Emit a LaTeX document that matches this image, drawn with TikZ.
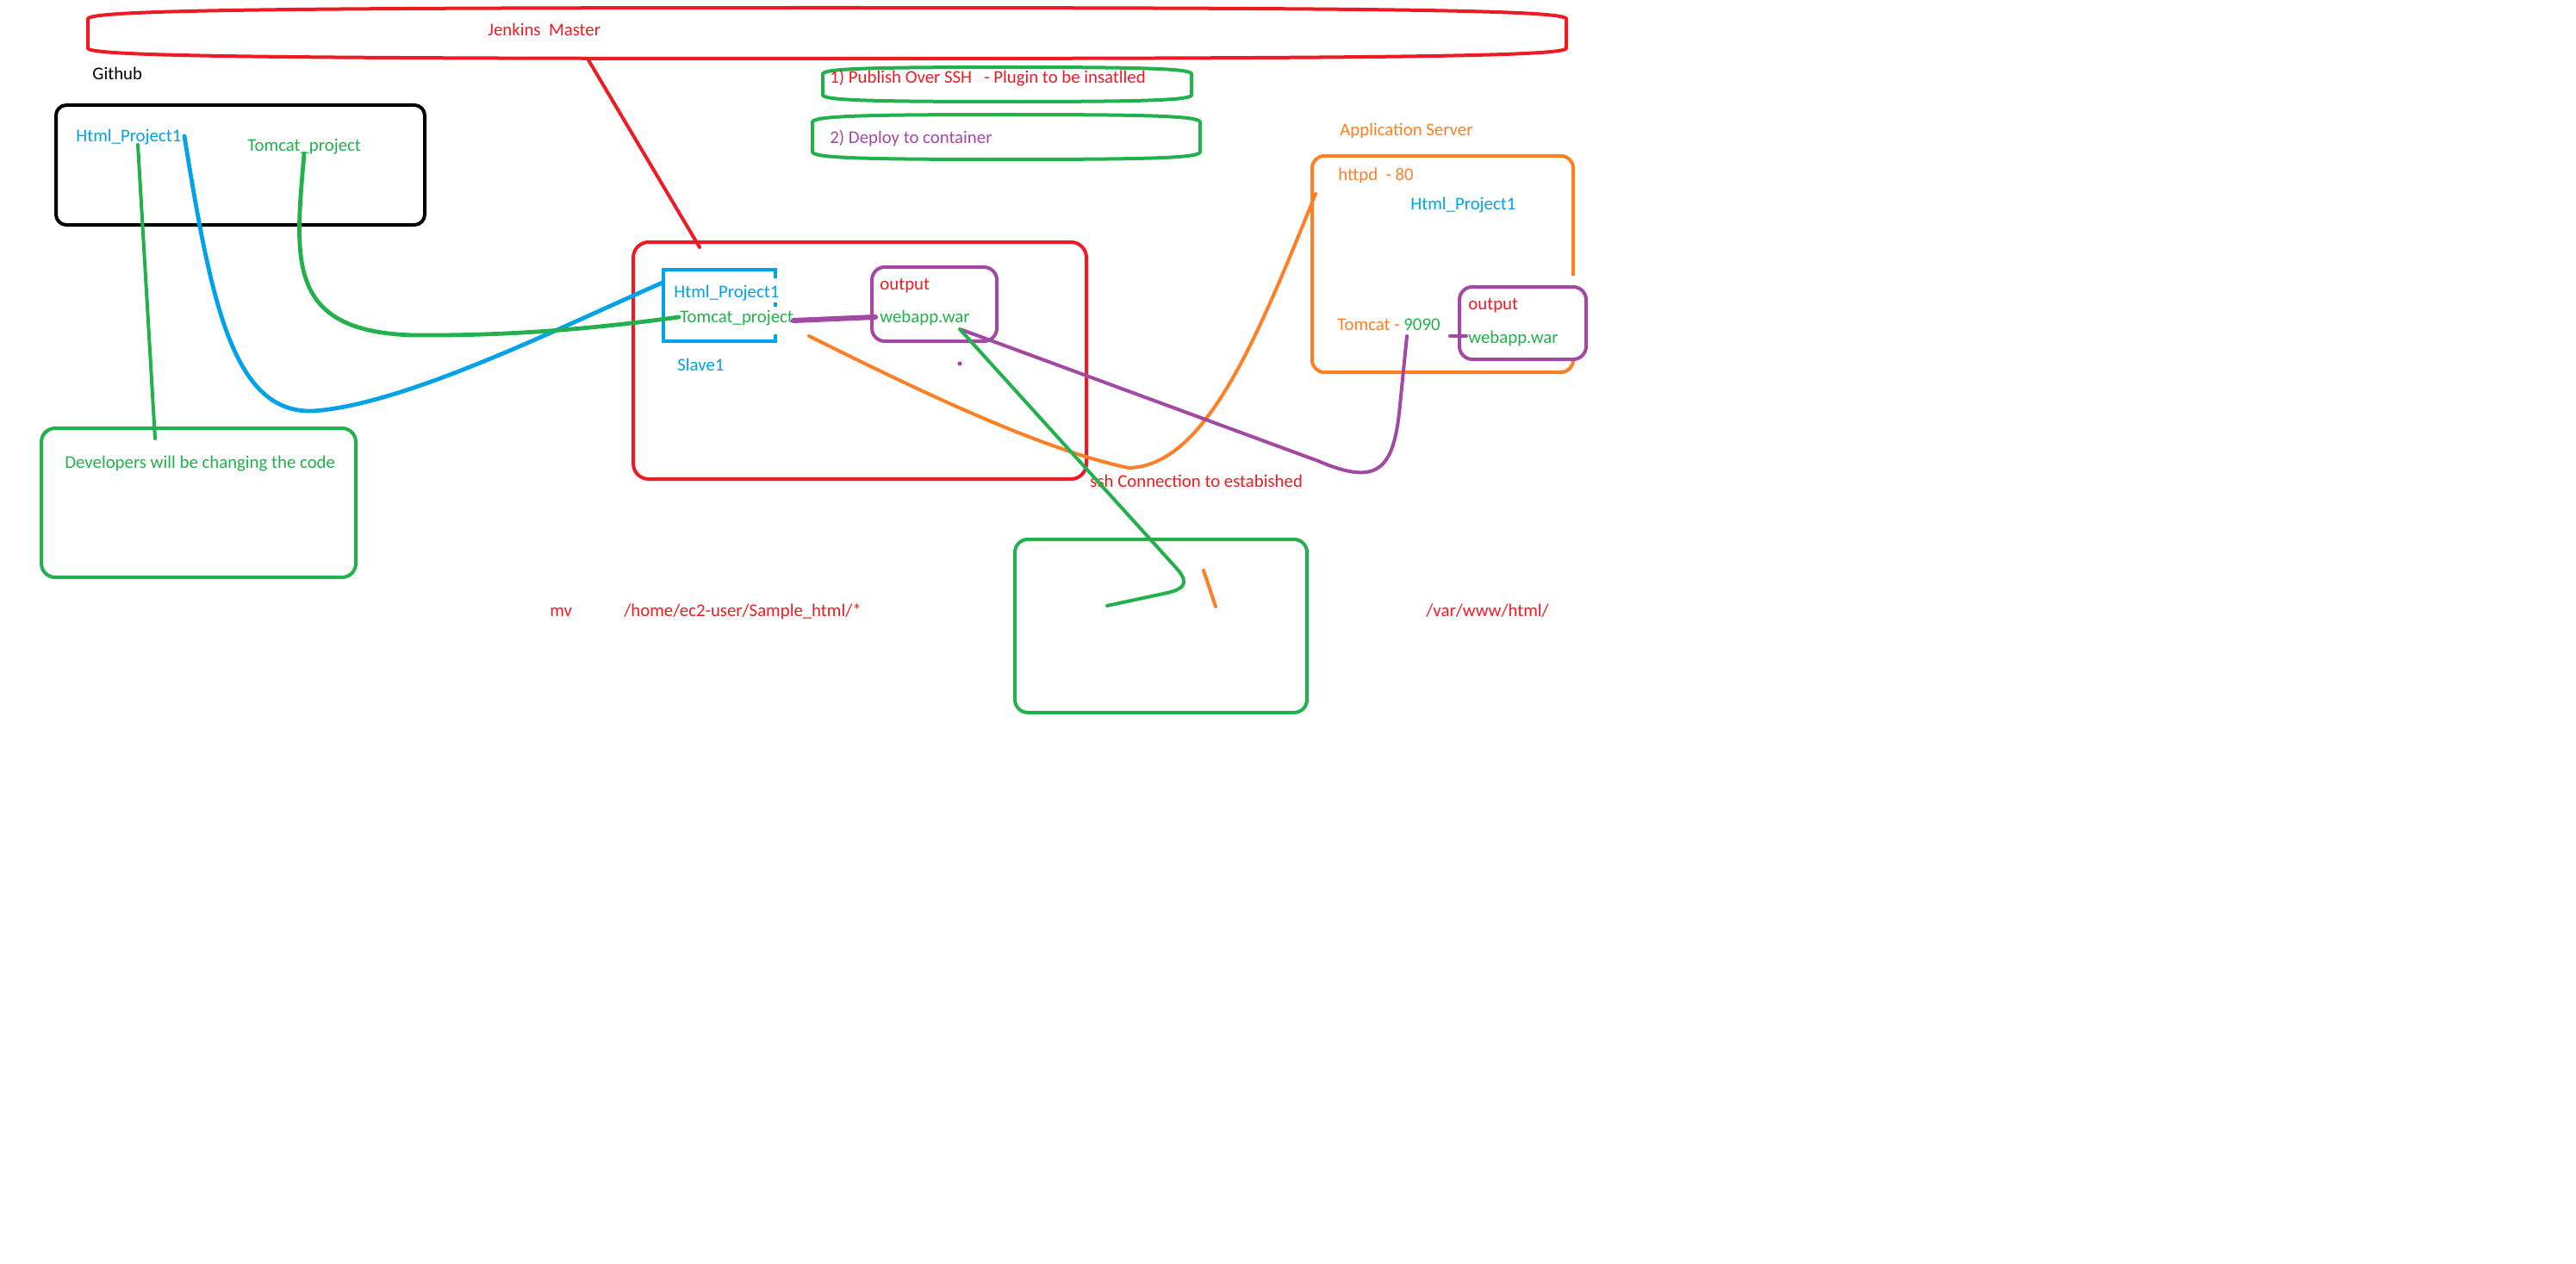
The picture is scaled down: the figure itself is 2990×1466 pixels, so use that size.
\documentclass[tikz,border=0pt]{standalone}
\usepackage{fontspec}
\setmainfont{Carlito}
\definecolor{pred}{HTML}{ED1C24}
\definecolor{pgreen}{HTML}{22B14C}
\definecolor{pblue}{HTML}{00A2E8}
\definecolor{ppurple}{HTML}{A349A4}
\definecolor{porange}{HTML}{FF7F27}
\begin{document}
\begin{tikzpicture}[x=0.5pt,y=-0.5pt,
  lbl/.style={anchor=base west,inner sep=0pt,font=\fontsize{10.4}{12.5}\selectfont},
  stroke/.style={line width=2pt,line cap=round,line join=round},
  box/.style={line width=2pt,line join=round}]
\useasboundingbox[fill=white] (0,0) rectangle (2990,1466);

% Jenkins master and plugin notes (flat Paint-style ellipses)
\draw[box,pred] (102,22) .. controls (102,12) and (300,9) .. (960,9)
   .. controls (1620,9) and (1818,12) .. (1818,22) -- (1818,56)
   .. controls (1818,65) and (1620,68) .. (960,68)
   .. controls (300,68) and (102,65) .. (102,56) -- cycle;
\node[lbl,text=pred] (jm) at (566,42) {Jenkins\ \ Master};
\draw[box,pgreen] (955,86) .. controls (955,80) and (1000,78) .. (1169,78)
   .. controls (1338,78) and (1383,80) .. (1383,86) -- (1383,110)
   .. controls (1383,116) and (1338,118) .. (1169,118)
   .. controls (1000,118) and (955,116) .. (955,110) -- cycle;
\node[lbl,text=pred] (pub) at (963,97) {1) Publish Over SSH\ \ \ - Plugin to be insatlled};
\draw[box,pgreen] (943,142) .. controls (943,135) and (990,133) .. (1168,133)
   .. controls (1346,133) and (1393,135) .. (1393,142) -- (1393,176)
   .. controls (1393,183) and (1346,185) .. (1168,185)
   .. controls (990,185) and (943,183) .. (943,176) -- cycle;
\node[lbl,text=ppurple] (dep) at (963,167) {2) Deploy to container};

% Github
\node[lbl,text=black] (gh) at (107,93) {Github};
\draw[box,black,rounded corners=6pt] (65,122) rectangle (493,261);
\node[lbl,text=pblue] (ghhtml) at (88,165) {Html\_Project1};
\node[lbl,text=pgreen] (ghtom) at (287,176) {Tomcat\_project};

% Developers
\draw[box,pgreen,rounded corners=8pt] (48,497) rectangle (413,670);
\node[lbl,text=pgreen] (dev) at (75,543) {Developers will be changing the code};

% Slave
\draw[box,pred,rounded corners=9pt] (735,281) rectangle (1261,556);
\draw[box,pblue,line width=2.4pt,line join=miter] (900,323) -- (900,313) -- (770,313) -- (770,396) -- (900,396) -- (900,388);
\draw[box,pblue,line width=2.4pt] (900,351) -- (900,356);
\node[lbl,text=pblue] (shtml) at (782,345) {Html\_Project1};
\node[lbl,text=pgreen] (stom) at (789,374) {Tomcat\_project};
\node[lbl,text=pblue] (slave) at (786,430) {Slave1};
\draw[box,ppurple,rounded corners=7.5pt] (1012,310) rectangle (1157,396);
\node[lbl,text=pred] (sout) at (1021,336) {output};
\node[lbl,text=pgreen] (swar) at (1021,374) {webapp.war};
\fill[ppurple] (1114,422) circle (1.3pt);

% Application server
\node[lbl,text=porange] (apps) at (1555,158) {Application Server};
\draw[box,porange,rounded corners=7pt] (1826,320) -- (1826,181) -- (1523,181) -- (1523,432) -- (1826,432) -- (1826,418);
\node[lbl,text=porange] (httpd) at (1553,210) {httpd\ \ - 80};
\node[lbl,text=pblue] (ahtml) at (1637,243) {Html\_Project1};
\node[lbl] (atom) at (1552,383) {\textcolor{porange}{Tomcat - }\textcolor{pgreen}{9090}};
\draw[box,ppurple,rounded corners=7.5pt] (1694,333) rectangle (1841,417);
\node[lbl,text=pred] (aout) at (1704,359) {output};
\node[lbl,text=pgreen] (awar) at (1704,398) {webapp.war};

% bottom notes
\node[lbl,text=pred] (ssh) at (1265,565) {ssh Connection to estabished};
\node[lbl,text=pred] (mv) at (638,715) {mv};
\node[lbl,text=pred] (src) at (724,715) {/home/ec2-user/Sample\_html/*};
\node[lbl,text=pred] (dst) at (1655,715) {/var/www/html/};
\draw[box,pgreen,rounded corners=7.5pt] (1178,626) rectangle (1517,827);

% connectors
\draw[stroke,pred] (682,68) -- (812,287);
\draw[stroke,pgreen] (160,168) -- (180,509);
\draw[stroke,pblue,line width=2.4pt] (214,158) .. controls (245,350) and (270,480) .. (363,477)
   .. controls (470,470) and (650,380) .. (769,328);
\draw[stroke,pgreen,line width=2.4pt] (353,178) .. controls (343,300) and (330,385) .. (480,389)
   .. controls (600,390) and (700,380) .. (788,368);
\draw[stroke,ppurple,line width=3pt] (921,372) -- (1016,368);
\draw[stroke,porange] (939,390) .. controls (1040,440) and (1200,520) .. (1310,543)
   .. controls (1400,541) and (1460,390) .. (1527,225);
\draw[stroke,ppurple] (1117,383) -- (1530,535) .. controls (1600,565) and (1618,545) .. (1625,470) -- (1633,390);
\draw[stroke,ppurple] (1683,390) -- (1702,390);
\draw[stroke,pgreen] (1114,382) -- (1366,660) .. controls (1382,678) and (1372,684) .. (1355,688) -- (1285,703);
\draw[stroke,porange] (1397,662) -- (1411,704);
\end{tikzpicture}
\end{document}
